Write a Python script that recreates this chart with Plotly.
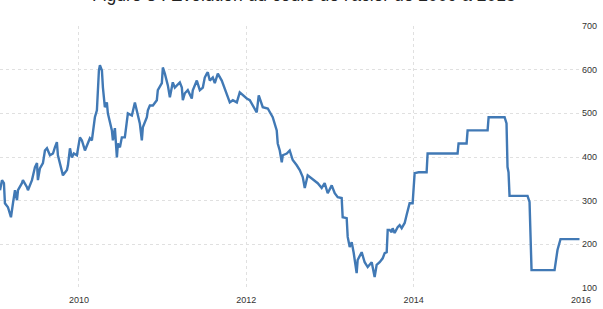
import plotly.graph_objects as go

# decimal years and steel price (USD/t)
years = [
    2009.057, 2009.081, 2009.104, 2009.116, 2009.152, 2009.188, 2009.212, 2009.236, 2009.260, 2009.272,
    2009.319, 2009.331, 2009.379, 2009.391, 2009.439, 2009.475, 2009.499, 2009.510, 2009.534, 2009.570,
    2009.594, 2009.618, 2009.654, 2009.690, 2009.713, 2009.737, 2009.749, 2009.773, 2009.809, 2009.857,
    2009.869, 2009.893, 2009.916, 2009.940, 2009.976, 2010.012, 2010.036, 2010.072, 2010.096, 2010.131,
    2010.155, 2010.191, 2010.215, 2010.227, 2010.239, 2010.251, 2010.275, 2010.287, 2010.310, 2010.334,
    2010.346, 2010.394, 2010.406, 2010.430, 2010.454, 2010.466, 2010.490, 2010.513, 2010.549, 2010.585,
    2010.633, 2010.669, 2010.693, 2010.728, 2010.752, 2010.764, 2010.812, 2010.824, 2010.848, 2010.884,
    2010.931, 2010.943, 2010.991, 2011.003, 2011.027, 2011.051, 2011.063, 2011.087, 2011.122, 2011.146,
    2011.170, 2011.206, 2011.230, 2011.242, 2011.266, 2011.301, 2011.349, 2011.361, 2011.409, 2011.445,
    2011.481, 2011.504, 2011.528, 2011.540, 2011.564, 2011.600, 2011.624, 2011.660, 2011.707, 2011.743,
    2011.779, 2011.803, 2011.839, 2011.887, 2011.922, 2011.958, 2012.006, 2012.042, 2012.125, 2012.149,
    2012.197, 2012.257, 2012.316, 2012.364, 2012.376, 2012.400, 2012.424, 2012.436, 2012.484, 2012.519,
    2012.555, 2012.603, 2012.639, 2012.675, 2012.699, 2012.734, 2012.782, 2012.818, 2012.854, 2012.901,
    2012.937, 2012.973, 2013.021, 2013.057, 2013.093, 2013.140, 2013.152, 2013.200, 2013.212, 2013.236,
    2013.260, 2013.284, 2013.319, 2013.331, 2013.355, 2013.379, 2013.415, 2013.451, 2013.499, 2013.534,
    2013.558, 2013.594, 2013.630, 2013.654, 2013.678, 2013.690, 2013.713, 2013.737, 2013.749, 2013.773,
    2013.809, 2013.833, 2013.857, 2013.893, 2013.916, 2013.952, 2013.988, 2014.012, 2014.060, 2014.155,
    2014.167, 2014.525, 2014.537, 2014.633, 2014.645, 2014.884, 2014.896, 2015.087, 2015.110, 2015.122,
    2015.134, 2015.146, 2015.361, 2015.385, 2015.409, 2015.684, 2015.719, 2015.755, 2015.982,
]
prices = [
    324, 347, 340, 294, 285, 262, 294, 324, 301, 324,
    340, 347, 331, 324, 347, 377, 386, 347, 374, 386,
    415, 420, 404, 408, 422, 434, 404, 386, 358, 370,
    381, 420, 399, 408, 404, 445, 438, 415, 427, 443,
    438, 491, 507, 553, 598, 610, 598, 559, 514, 525,
    500, 461, 438, 466, 399, 431, 422, 445, 445, 500,
    495, 525, 502, 477, 438, 468, 491, 507, 518, 518,
    530, 553, 569, 605, 591, 575, 564, 537, 571, 559,
    564, 571, 559, 530, 546, 553, 534, 553, 575, 553,
    559, 582, 591, 594, 575, 582, 569, 591, 575, 557,
    537, 525, 530, 525, 548, 541, 534, 530, 502, 541,
    514, 511, 491, 461, 431, 415, 388, 404, 408, 415,
    393, 381, 370, 354, 329, 358, 351, 347, 340, 329,
    340, 317, 335, 317, 308, 306, 262, 260, 217, 194,
    205, 180, 134, 164, 175, 182, 159, 148, 159, 125,
    153, 159, 168, 180, 182, 233, 233, 228, 237, 226,
    239, 244, 237, 249, 267, 294, 294, 363, 365, 365,
    408, 408, 431, 431, 461, 461, 491, 491, 477, 377,
    365, 311, 311, 297, 141, 141, 187, 212, 212,
]

x_ticks = [2010, 2012, 2014, 2016]
y_ticks = [100, 200, 300, 400, 500, 600, 700]
title = "Figure 3 : Evolution du cours de l'acier de 2009 à 2015"

fig = go.Figure()
fig.add_trace(go.Scatter(
    x=years, y=prices, mode="lines",
    line=dict(color="#4179b5", width=2.4),
    showlegend=False,
))

fig.update_layout(
    width=603, height=309,
    margin=dict(l=0, r=22, t=26, b=21),
    paper_bgcolor="white", plot_bgcolor="white",
    font=dict(family="Liberation Sans, Arial, sans-serif", color="#333333"),
    xaxis=dict(
        range=[2009.057, 2016.0],
        tickvals=x_ticks, ticktext=[str(v) for v in x_ticks],
        showgrid=True, gridcolor="#e0e0e0", griddash="dot", gridwidth=1,
        zeroline=False, showline=False, ticks="",
        ticklabelstandoff=5,
        tickfont=dict(size=9, color="#333333"),
    ),
    yaxis=dict(
        range=[100, 700], side="right",
        tickvals=y_ticks,
        showgrid=True, gridcolor="#e0e0e0", griddash="dot", gridwidth=1,
        zeroline=False, showline=False, ticks="",
        tickfont=dict(size=9, color="#333333"),
    ),
    annotations=[dict(
        text=title, xref="paper", yref="paper", x=0.523, y=1.119,
        xanchor="center", yanchor="middle", showarrow=False,
        font=dict(size=17.5, color="#222222"),
    )],
)

fig.write_html("out.html")
